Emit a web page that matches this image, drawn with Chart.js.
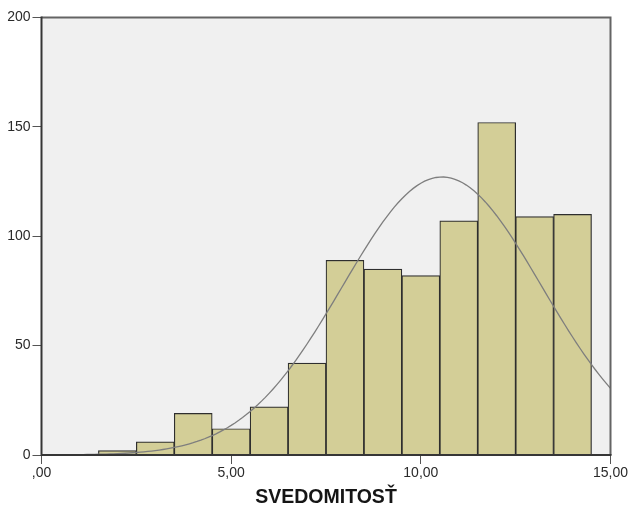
<!DOCTYPE html>
<html>
<head>
<meta charset="utf-8">
<script src="https://cdn.jsdelivr.net/npm/chart.js@4.4.1/dist/chart.umd.min.js"></script>
<style>
  html, body { margin: 0; padding: 0; background: #ffffff; }
  #wrap { width: 630px; height: 506px; position: relative; }
</style>
</head>
<body>
<div id="wrap"><canvas id="hist" width="630" height="506"></canvas></div>
<script>
// Histogram of SVEDOMITOSŤ: bins of width 1, centred on whole numbers
const binCenters = [2, 3, 4, 5, 6, 7, 8, 9, 10, 11, 12, 13, 14];
const counts     = [2, 6, 19, 12, 22, 42, 89, 85, 82, 107, 152, 109, 110];

// Axis ticks
const xTickValues = [0, 5, 10, 15];
const xTickLabels = [',00', '5,00', '10,00', '15,00'];
const yTickValues = [0, 50, 100, 150, 200];

const axisTitle = 'SVEDOMITOSŤ';

// Normal curve fitted to the binned counts (mean, sd and N of the histogram)
const binWidth = 1;
const total = counts.reduce((a, b) => a + b, 0);
const mean = binCenters.reduce((s, x, i) => s + x * counts[i], 0) / total;
const variance = binCenters.reduce((s, x, i) => s + counts[i] * (x - mean) ** 2, 0) / (total - 1);
const sd = Math.sqrt(variance);
const curvePoints = [];
for (let k = 0; k <= 150; k++) {
  const x = k / 10;
  const z = (x - mean) / sd;
  curvePoints.push({ x, y: total * binWidth * Math.exp(-0.5 * z * z) / (sd * Math.sqrt(2 * Math.PI)) });
}

const frame = {
  id: 'frame',
  beforeDatasetsDraw(chart) {
    const { ctx, chartArea: a } = chart;
    ctx.save();
    ctx.fillStyle = '#f0f0f0';
    ctx.fillRect(a.left, a.top, a.right - a.left, a.bottom - a.top);
    ctx.restore();
  },
  afterDraw(chart) {
    const { ctx, chartArea: a } = chart;
    ctx.save();
    ctx.lineWidth = 2;
    ctx.strokeStyle = '#646464';
    ctx.beginPath();
    ctx.moveTo(a.left, a.top);
    ctx.lineTo(a.right, a.top);
    ctx.lineTo(a.right, a.bottom);
    ctx.stroke();
    ctx.strokeStyle = '#363636';
    ctx.beginPath();
    ctx.moveTo(a.left, a.top - 1);
    ctx.lineTo(a.left, a.bottom);
    ctx.lineTo(a.right + 1, a.bottom);
    ctx.stroke();
    ctx.restore();
  }
};

new Chart(document.getElementById('hist'), {
  type: 'bar',
  data: {
    datasets: [
      {
        type: 'line',
        data: curvePoints,
        borderColor: '#7e7e7e',
        borderWidth: 1.3,
        pointRadius: 0,
        tension: 0,
        order: 0
      },
      {
        type: 'bar',
        data: binCenters.map((x, i) => ({ x, y: counts[i] })),
        backgroundColor: '#d3ce97',
        borderColor: '#2e2e2e',
        borderWidth: 1.2,
        barPercentage: 1,
        categoryPercentage: 1,
        order: 1
      }
    ]
  },
  options: {
    responsive: false,
    animation: false,
    devicePixelRatio: 1,
    layout: { padding: { top: 17.5, right: 19.5, left: 0, bottom: 0 } },
    plugins: { legend: { display: false }, tooltip: { enabled: false } },
    scales: {
      x: {
        type: 'linear',
        min: 0,
        max: 15,
        offset: false,
        grid: { offset: false, drawOnChartArea: false, drawTicks: true, tickLength: 9, tickColor: '#555555', tickWidth: 1 },
        border: { display: false },
        afterBuildTicks(scale) { scale.ticks = xTickValues.map(v => ({ value: v })); },
        afterFit(scale) { scale.height = 51; },
        ticks: {
          padding: 1,
          maxRotation: 0,
          color: '#2a2a2a',
          font: { family: '"Liberation Sans", Arial, sans-serif', size: 14 },
          callback: (v) => xTickLabels[xTickValues.indexOf(v)]
        },
        title: {
          display: true,
          text: axisTitle,
          color: '#151515',
          padding: 0,
          font: { family: '"Liberation Sans", Arial, sans-serif', size: 19.5, weight: 'bold', lineHeight: 0.9 }
        }
      },
      y: {
        type: 'linear',
        min: 0,
        max: 200,
        grid: { drawOnChartArea: false, drawTicks: true, tickLength: 9, tickColor: '#555555', tickWidth: 1 },
        border: { display: false },
        afterBuildTicks(scale) { scale.ticks = yTickValues.map(v => ({ value: v })); },
        afterFit(scale) { scale.width = 41.5; },
        ticks: {
          padding: 2,
          color: '#2a2a2a',
          font: { family: '"Liberation Sans", Arial, sans-serif', size: 14 }
        }
      }
    }
  },
  plugins: [frame]
});
</script>
</body>
</html>
